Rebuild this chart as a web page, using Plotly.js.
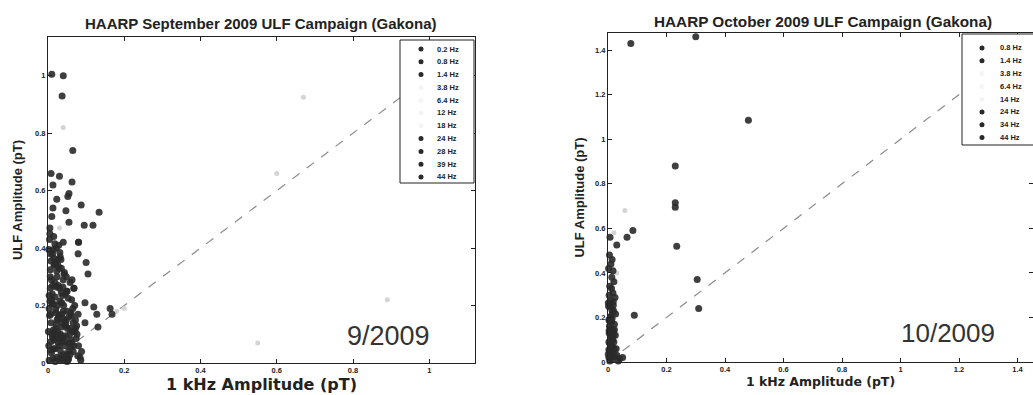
<!DOCTYPE html>
<html>
<head>
<meta charset="utf-8">
<script src="https://cdn.plot.ly/plotly-3.0.1.min.js"></script>
<style>html,body{margin:0;padding:0;background:#fff;}#chart{width:1033px;height:395px;}</style>
</head>
<body>
<div id="chart"></div>
<script>
// ---------- Data: September 2009 (left panel) ----------
const sepLabels = ["0.2 Hz","0.8 Hz","1.4 Hz","3.8 Hz","6.4 Hz","12 Hz","18 Hz","24 Hz","28 Hz","39 Hz","44 Hz"];
const sepFaint  = [false,false,false,true,true,true,true,false,false,false,false];
const sep02x = [0.010,0.040,0.008,0.013,0.023,0.005,0.015,0.028,0.012,0.020,0.035,0.006,0.018,0.030,0.045,0.010,0.025,0.040,0.055,0.008,0.020,0.033,0.060,0.015,0.050];
const sep02y = [1.005,1.000,0.660,0.620,0.570,0.470,0.440,0.410,0.380,0.350,0.330,0.300,0.280,0.260,0.240,0.220,0.200,0.180,0.160,0.140,0.120,0.100,0.080,0.050,0.030];
const sep08x = [0.037,0.030,0.052,0.013,0.010,0.063,0.004,0.022,0.032,0.016,0.042,0.009,0.027,0.050,0.019,0.036,0.065,0.007,0.024,0.045,0.070,0.012,0.030,0.055,0.003];
const sep08y = [0.930,0.650,0.580,0.540,0.510,0.070,0.430,0.400,0.370,0.340,0.310,0.290,0.270,0.250,0.230,0.210,0.190,0.170,0.150,0.130,0.110,0.090,0.060,0.040,0.010];
const sep14x = [0.065,0.055,0.047,0.080,0.079,0.026,0.023,0.058,0.068,0.040,0.014,0.034,0.006,0.048,0.021,0.038,0.011,0.060,0.029,0.044,0.017,0.075,0.037,0.002,0.052];
const sep14y = [0.740,0.590,0.530,0.420,0.380,0.360,0.320,0.280,0.260,0.290,0.395,0.360,0.325,0.300,0.265,0.235,0.205,0.175,0.165,0.145,0.105,0.130,0.075,0.060,0.010];
const sep38x = [0.67,0.60,0.04];
const sep38y = [0.925,0.66,0.82];
const sep64x = [0.89,0.20];
const sep64y = [0.22,0.19];
const sep12x = [0.55];
const sep12y = [0.07];
const sep18x = [0.03,0.18];
const sep18y = [0.47,0.18];
const sep24x = [0.063,0.087,0.134,0.118,0.095,0.100,0.105,0.097,0.120,0.163,0.168,0.128,0.079,0.097,0.131,0.076,0.084,0.062,0.070,0.050,0.088,0.072,0.058];
const sep24y = [0.630,0.550,0.525,0.480,0.480,0.350,0.310,0.210,0.195,0.190,0.170,0.170,0.170,0.140,0.125,0.100,0.020,0.220,0.200,0.180,0.040,0.150,0.120];
const sep28x = [0.055,0.080,0.040,0.063,0.005,0.018,0.031,0.008,0.026,0.043,0.012,0.035,0.053,0.003,0.021,0.039,0.066,0.014,0.047,0.028,0.060,0.009,0.033,0.074,0.019];
const sep28y = [0.490,0.420,0.420,0.290,0.450,0.415,0.385,0.355,0.340,0.315,0.270,0.245,0.225,0.190,0.175,0.155,0.140,0.115,0.095,0.085,0.055,0.035,0.025,0.085,0.005];
const sep39x = [0.002,0.015,0.024,0.006,0.031,0.011,0.041,0.020,0.004,0.036,0.051,0.016,0.027,0.009,0.046,0.058,0.023,0.001,0.032,0.067,0.013,0.043,0.025,0.005,0.038,0.030,0.048,0.062,0.072,0.055,0.040,0.066,0.035,0.050,0.080];
const sep39y = [0.395,0.365,0.300,0.260,0.215,0.240,0.200,0.185,0.165,0.125,0.120,0.080,0.070,0.045,0.060,0.030,0.020,0.110,0.045,0.060,0.015,0.010,0.110,0.215,0.140,0.165,0.150,0.165,0.120,0.070,0.090,0.040,0.015,0.005,0.060];
const sep44x = [0.068,0.007,0.017,0.029,0.039,0.049,0.003,0.014,0.026,0.036,0.057,0.010,0.022,0.034,0.046,0.064,0.018,0.030,0.042,0.054,0.078,0.008,0.021,0.044,0.086];
const sep44y = [0.260,0.380,0.345,0.330,0.265,0.250,0.235,0.205,0.155,0.170,0.100,0.100,0.135,0.095,0.135,0.110,0.050,0.010,0.030,0.015,0.025,0.075,0.090,0.075,0.010];
const sepX = [sep02x,sep08x,sep14x,sep38x,sep64x,sep12x,sep18x,sep24x,sep28x,sep39x,sep44x];
const sepY = [sep02y,sep08y,sep14y,sep38y,sep64y,sep12y,sep18y,sep24y,sep28y,sep39y,sep44y];

// ---------- Data: October 2009 (right panel) ----------
const octLabels = ["0.8 Hz","1.4 Hz","3.8 Hz","6.4 Hz","14 Hz","24 Hz","34 Hz","44 Hz"];
const octFaint  = [false,false,true,true,true,false,false,false];
const oct08x = [0.078,0.300,0.480,0.230,0.230,0.235];
const oct08y = [1.430,1.460,1.085,0.880,0.715,0.520];
const oct14x = [0.085,0.065,0.030,0.007,0.305,0.090,0.230];
const oct14y = [0.590,0.560,0.525,0.560,0.370,0.210,0.695];
const oct38x = [0.058];
const oct38y = [0.680];
const oct64x = [0.030];
const oct64y = [0.400];
const oct14Hzx = [0.020];
const oct14Hzy = [0.580];
const oct24x = [0.310,0.014,0.017,0.010,0.005,0.020,0.012,0.004,0.018,0.008,0.015,0.003,0.022,0.009,0.050];
const oct24y = [0.240,0.460,0.410,0.440,0.480,0.360,0.330,0.300,0.270,0.250,0.220,0.190,0.170,0.150,0.020];
const oct34x = [0.017,0.024,0.006,0.013,0.002,0.019,0.008,0.011,0.004,0.016,0.007,0.021,0.010,0.003,0.014,0.030,0.001,0.009,0.018,0.026,0.005,0.014,0.022,0.003,0.012];
const oct34y = [0.310,0.290,0.340,0.380,0.420,0.230,0.200,0.120,0.130,0.100,0.080,0.060,0.040,0.020,0.010,0.030,0.265,0.275,0.255,0.215,0.185,0.195,0.145,0.055,0.065];
const oct44x = [0.012,0.005,0.018,0.009,0.003,0.015,0.007,0.011,0.002,0.020,0.006,0.013,0.025,0.040,0.017,0.008,0.001,0.023,0.028,0.004,0.015,0.010,0.019,0.035];
const oct44y = [0.180,0.160,0.140,0.110,0.090,0.070,0.050,0.030,0.250,0.090,0.005,0.235,0.120,0.015,0.045,0.025,0.035,0.025,0.060,0.140,0.100,0.205,0.125,0.005];
const octX = [oct08x,oct14x,oct38x,oct64x,oct14Hzx,oct24x,oct34x,oct44x];
const octY = [oct08y,oct14y,oct38y,oct64y,oct14Hzy,oct24y,oct34y,oct44y];

// reference line (1:1)
const sepLineX = [0, 1.12];
const sepLineY = [0, 1.12];
const octLineX = [0.05, 1.45];
const octLineY = [0.05, 1.45];

const sepTicks = [0,0.2,0.4,0.6,0.8,1];
const sepTickText = ["0","0.2","0.4","0.6","0.8","1"];
const octTicks = [0,0.2,0.4,0.6,0.8,1,1.2,1.4];
const octTickText = ["0","0.2","0.4","0.6","0.8","1","1.2","1.4"];

// ---------- Build ----------
const W = 1033, H = 395;
const px = v => v / W;
const py = v => 1 - v / H;
const DARK = '#2a2a2a', FAINT = '#d4d4d4';

const traces = [];
function addSeries(X, Y, labels, faint, xa, ya) {
  labels.forEach((lab, i) => {
    traces.push({
      type: 'scatter', mode: 'markers', name: lab, x: X[i], y: Y[i],
      xaxis: xa, yaxis: ya, showlegend: false, cliponaxis: false, hoverinfo: 'x+y+name',
      marker: { size: faint[i] ? 5 : 7, color: faint[i] ? FAINT : DARK, opacity: faint[i] ? 1 : 0.9 }
    });
  });
}
traces.push({type:'scatter',mode:'lines',x:sepLineX,y:sepLineY,xaxis:'x',yaxis:'y',showlegend:false,
  line:{color:'#8a8a8a',width:1.2,dash:'dash'},hoverinfo:'skip'});
traces.push({type:'scatter',mode:'lines',x:octLineX,y:octLineY,xaxis:'x2',yaxis:'y2',showlegend:false,
  line:{color:'#8a8a8a',width:1.2,dash:'dash'},hoverinfo:'skip'});
addSeries(sepX, sepY, sepLabels, sepFaint, 'x', 'y');
addSeries(octX, octY, octLabels, octFaint, 'x2', 'y2');

const FONT = 'Liberation Sans, Arial, sans-serif';
const WIDE = 'DejaVu Sans, Liberation Sans, sans-serif';
const tickFont = {family: FONT, size: 7.5, color: '#222', weight: 'bold'};
function axis(extra) {
  return Object.assign({
    showline: true, mirror: 'ticks', linecolor: '#222', linewidth: 1,
    ticks: 'inside', ticklen: 4, tickcolor: '#222', showgrid: false, zeroline: false,
    tickfont: tickFont, fixedrange: true
  }, extra);
}

const shapes = [];
const annotations = [];
function legend(labels, faint, left, right, top, bottom, firstY, step, markX, textX) {
  shapes.push({type:'rect', xref:'paper', yref:'paper', x0:px(left), x1:px(right), y0:py(bottom), y1:py(top),
    fillcolor:'#fff', line:{color:'#222', width:1}, layer:'above'});
  labels.forEach((lab, i) => {
    const cy = firstY + i * step;
    shapes.push({type:'circle', xref:'paper', yref:'paper', x0:px(markX-2.5), x1:px(markX+2.5),
      y0:py(cy+2.5), y1:py(cy-2.5), fillcolor: faint[i] ? '#f4f4f4' : DARK, line:{width:0}, layer:'above'});
    annotations.push({xref:'paper', yref:'paper', x:px(textX), y:py(cy), xanchor:'left', yanchor:'middle',
      text: lab, showarrow:false, font:{family:FONT, size:7.5, color:'#222', weight:'bold'}});
  });
}
legend(sepLabels, sepFaint, 400, 474, 40, 183, 49, 12.8, 421, 435);
legend(octLabels, octFaint, 962, 1040, 34, 145, 48, 12.8, 982, 998);

annotations.push({xref:'paper', yref:'paper', x:px(260), y:py(24), xanchor:'center', yanchor:'middle', showarrow:false,
  text:'HAARP September 2009 ULF Campaign (Gakona)', font:{family:FONT, size:15, color:'#222', weight:'bold'}});
annotations.push({xref:'paper', yref:'paper', x:px(823), y:py(22), xanchor:'center', yanchor:'middle', showarrow:false,
  text:'HAARP October 2009 ULF Campaign (Gakona)', font:{family:FONT, size:15.3, color:'#222', weight:'bold'}});
annotations.push({xref:'paper', yref:'paper', x:px(388), y:py(336), xanchor:'center', yanchor:'middle', showarrow:false,
  text:'9/2009', font:{family:FONT, size:27, color:'#333'}});
annotations.push({xref:'paper', yref:'paper', x:px(948), y:py(333), xanchor:'center', yanchor:'middle', showarrow:false,
  text:'10/2009', font:{family:FONT, size:26, color:'#333'}});

const layout = {
  width: W, height: H, margin: {l:0, r:0, t:0, b:0}, paper_bgcolor:'#fff', plot_bgcolor:'#fff',
  showlegend: false, font: {family: FONT, color:'#222'},
  xaxis: axis({domain:[px(48), px(475)], range:[0,1.12], anchor:'y', tickvals:sepTicks, ticktext:sepTickText,
    title:{text:'1 kHz Amplitude (pT)', font:{family:WIDE, size:16, color:'#222', weight:'bold'}, standoff:1}}),
  yaxis: axis({domain:[1-363/H, 1-37/H], range:[0,1.135], anchor:'x', tickvals:sepTicks, ticktext:sepTickText,
    title:{text:'ULF Amplitude (pT)', font:{family:FONT, size:13, color:'#222', weight:'bold'}, standoff:9}}),
  xaxis2: axis({domain:[px(608), 1], range:[0,1.453], anchor:'y2', tickvals:octTicks, ticktext:octTickText,
    title:{text:'1 kHz Amplitude (pT)', font:{family:WIDE, size:12.5, color:'#222', weight:'bold'}, standoff:3}}),
  yaxis2: axis({domain:[1-362/H, 1-33/H], range:[0,1.477], anchor:'x2', tickvals:octTicks, ticktext:octTickText,
    title:{text:'ULF Amplitude (pT)', font:{family:FONT, size:13, color:'#222', weight:'bold'}, standoff:7}}),
  shapes: shapes, annotations: annotations
};
Plotly.newPlot('chart', traces, layout, {displayModeBar:false, staticPlot:true});
</script>
</body>
</html>
